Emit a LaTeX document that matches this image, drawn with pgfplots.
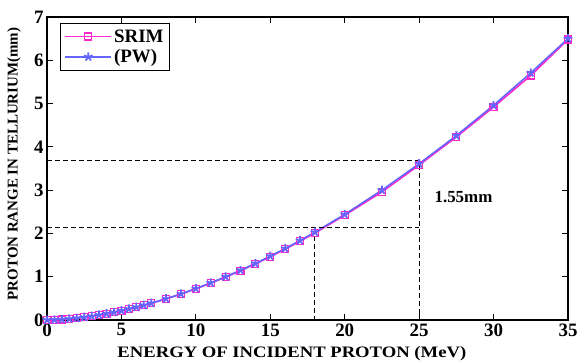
\documentclass[border=0pt]{standalone}
\usepackage{pgfplots}
\pgfplotsset{compat=1.18}
\usepackage{fontspec}
\setmainfont{Liberation Serif}
\definecolor{srim}{RGB}{255,40,200}
\definecolor{pw}{RGB}{100,100,255}
\begin{document}
\begin{tikzpicture}
\begin{axis}[
  name=ax,
  scale only axis,
  width=521bp, height=303bp,
  xmin=0, xmax=35, ymin=0, ymax=7,
  xtick={0,5,...,35}, ytick={0,1,...,7},
  tick align=inside,
  major tick length=6bp,
  axis line style={line width=1.4pt},
  every tick/.style={black, line width=1pt},
  /pgf/number format/assume math mode=true,
  ticklabel style={font=\fontsize{19}{19}\selectfont\bfseries},
  xlabel={\scalebox{1.17}[1]{ENERGY OF INCIDENT PROTON (MeV)}},
  ylabel={PROTON RANGE IN TELLURIUM(mm)},
  xlabel style={font=\fontsize{16}{16}\selectfont\bfseries, at={(axis description cs:0.47,0)}, anchor=center, yshift=-34bp},
  ylabel style={font=\fontsize{15}{15}\selectfont\bfseries, at={(axis description cs:0,0.515)}, anchor=center, yshift=33bp},
  legend style={at={(0.025,0.98)}, anchor=north west, draw=black, line width=1pt,
    font=\fontsize{19}{19}\selectfont\bfseries, inner sep=4bp, row sep=2bp},
  legend cell align=left,
  legend image code/.code={\draw[mark repeat=2,mark phase=2] plot coordinates {(0bp,0bp) (23bp,0bp) (46bp,0bp)};},
]
\addplot[srim, line width=1.6pt, mark=square, mark size=3.5bp, mark options={line width=1.2pt, fill=none}] coordinates {
(0,0) (0.5,0.004) (1,0.013) (1.5,0.026) (2,0.043) (2.5,0.063) (3,0.087) (3.5,0.115) (4,0.145)
(4.5,0.178) (5,0.214) (5.5,0.253) (6,0.294) (6.5,0.338) (7,0.386) (8,0.487) (9,0.598)
(10,0.72) (11,0.851) (12,0.99) (13,1.139) (14,1.296) (15,1.462) (16,1.637) (17,1.82)
(18,2.01) (20,2.42) (22.5,2.96) (25,3.58) (27.5,4.23) (30,4.92) (32.5,5.65) (35,6.48)};
\addlegendentry{SRIM}
\addplot[pw, line width=1.6pt, mark=star, mark size=4.5bp, mark options={line width=1.8pt}] coordinates {
(0,0) (0.5,0.004) (1,0.013) (1.5,0.026) (2,0.043) (2.5,0.064) (3,0.088) (3.5,0.116) (4,0.146)
(4.5,0.179) (5,0.216) (5.5,0.255) (6,0.297) (6.5,0.341) (7,0.389) (8,0.491) (9,0.603)
(10,0.726) (11,0.858) (12,0.999) (13,1.149) (14,1.307) (15,1.475) (16,1.652) (17,1.837)
(18,2.03) (20,2.44) (22.5,3.0) (25,3.61) (27.5,4.26) (30,4.96) (32.5,5.71) (35,6.5)};
\addlegendentry{(PW)}
\addplot[black, dash pattern=on 5bp off 3bp, line width=0.9pt, forget plot] coordinates {(0,3.68) (25,3.68) (25,0)};
\addplot[black, dash pattern=on 5bp off 3bp, line width=0.9pt, forget plot] coordinates {(0,2.13) (25,2.13)};
\addplot[black, dash pattern=on 5bp off 3bp, line width=0.9pt, forget plot] coordinates {(18,2.13) (18,0)};
\node[font=\fontsize{17}{17}\selectfont\bfseries, anchor=west] at (axis cs:25.8,2.84) {1.55mm};
\end{axis}
\pgfresetboundingbox
\path[use as bounding box] ([xshift=-47bp,yshift=-41bp]ax.south west) rectangle ([xshift=11bp,yshift=17bp]ax.north east);
\end{tikzpicture}
\end{document}
